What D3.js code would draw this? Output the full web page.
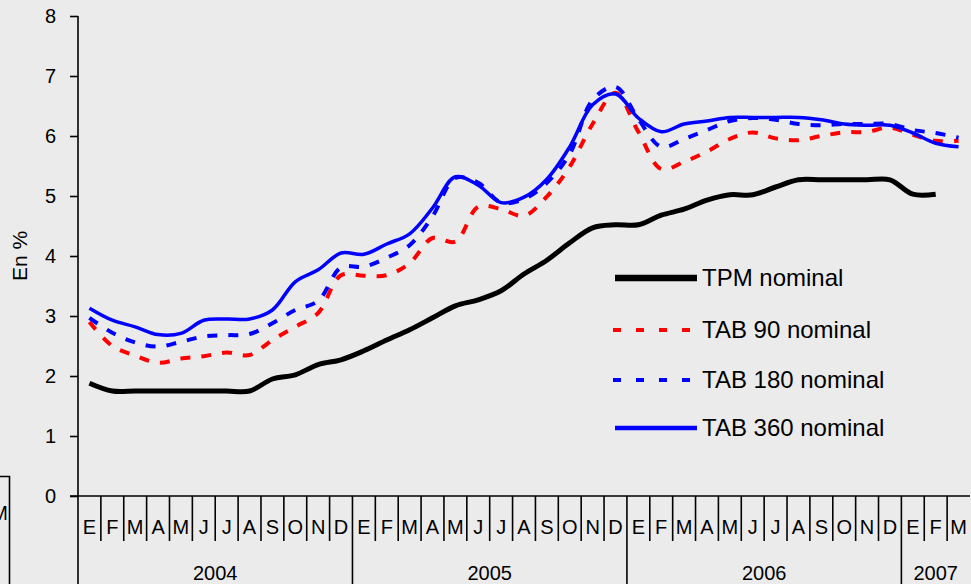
<!DOCTYPE html>
<html>
<head>
<meta charset="utf-8">
<script src="https://cdn.jsdelivr.net/npm/d3@7"></script>
<style>
  html, body { margin: 0; padding: 0; background: #ebebeb; }
  svg { display: block; }
  text { font-family: "Liberation Sans", Arial, sans-serif; fill: #000; }
</style>
</head>
<body>
<svg id="chart" width="971" height="584"></svg>
<script>
// Month initials (Spanish) and the years they belong to
const monthInitials = ["E","F","M","A","M","J","J","A","S","O","N","D"];
const years = ["2004", "2005", "2006", "2007"];
const monthsPerYear = [12, 12, 12, 3];
const yTicks = [0, 1, 2, 3, 4, 5, 6, 7, 8];

// Monthly rates, in percent (Jan 2004 – Mar 2007)
const tpm = [
  1.88, 1.75, 1.75, 1.75, 1.75, 1.75, 1.75, 1.75, 1.95, 2.02, 2.19, 2.27,
  2.42, 2.60, 2.77, 2.97, 3.17, 3.27, 3.42, 3.70, 3.93, 4.22, 4.47, 4.52,
  4.52, 4.68, 4.78, 4.93, 5.02, 5.02, 5.15, 5.27, 5.27, 5.27, 5.27, 5.27,
  5.03, 5.03, null
];
const tab90 = [
  2.90, 2.50, 2.34, 2.22, 2.29, 2.33, 2.39, 2.35, 2.60, 2.82, 3.05, 3.68,
  3.67, 3.68, 3.88, 4.30, 4.24, 4.82, 4.78, 4.67, 4.99, 5.49, 6.20, 6.72,
  6.07, 5.45, 5.57, 5.74, 5.95, 6.06, 5.96, 5.93, 6.00, 6.06, 6.07, 6.14,
  6.02, 5.92, 5.92
];
const tab180 = [
  2.97, 2.72, 2.56, 2.49, 2.57, 2.66, 2.68, 2.70, 2.88, 3.10, 3.25, 3.81,
  3.82, 3.97, 4.18, 4.66, 5.30, 5.22, 4.89, 4.95, 5.22, 5.70, 6.60, 6.82,
  6.28, 5.82, 5.95, 6.10, 6.25, 6.30, 6.27, 6.20, 6.18, 6.20, 6.20, 6.20,
  6.10, 6.05, 5.97
];
const tab360 = [
  3.13, 2.93, 2.82, 2.69, 2.71, 2.93, 2.95, 2.95, 3.10, 3.57, 3.77, 4.05,
  4.03, 4.20, 4.37, 4.80, 5.32, 5.18, 4.89, 4.98, 5.28, 5.82, 6.52, 6.70,
  6.30, 6.07, 6.20, 6.25, 6.31, 6.31, 6.31, 6.31, 6.27, 6.20, 6.18, 6.18,
  6.05, 5.88, 5.82
];

const seriesNames = ["TPM nominal", "TAB 90 nominal", "TAB 180 nominal", "TAB 360 nominal"];

// Build the month list from the arrays above
const months = [];
years.forEach((yr, yi) => {
  for (let m = 0; m < monthsPerYear[yi]; m++) {
    months.push({ idx: months.length, label: monthInitials[m], year: yr });
  }
});

const series = [
  { name: seriesNames[0], values: tpm,    color: "#000000", width: 5,   dash: null,    lw: 6.5, ldash: null },
  { name: seriesNames[1], values: tab90,  color: "#ff0000", width: 4,   dash: "10,11", lw: 4,   ldash: "8,15" },
  { name: seriesNames[2], values: tab180, color: "#0000ff", width: 4,   dash: "10,11", lw: 4,   ldash: "8,15" },
  { name: seriesNames[3], values: tab360, color: "#0000ff", width: 3.5, dash: null,    lw: 4.3, ldash: null }
];

const svg = d3.select("#chart");
const plotLeft = 78, plotRight = 970, plotTop = 16, plotBottom = 496;

const x = d3.scaleBand()
  .domain(months.map(d => d.idx))
  .range([plotLeft, plotRight])
  .paddingInner(0).paddingOuter(0);
const y = d3.scaleLinear().domain([0, 8]).range([plotBottom, plotTop]);
const xc = i => x(i) + x.bandwidth() / 2;

// Edge of the neighbouring panel at the far left
svg.append("path")
  .attr("d", "M0,476.5H9.5V584")
  .attr("fill", "none").attr("stroke", "#000").attr("stroke-width", 1.6);
svg.append("text").attr("x", 8).attr("y", 520).attr("text-anchor", "end")
  .attr("font-size", 20).text("M");

// Y axis
const yAxis = d3.axisLeft(y).tickValues(yTicks).tickSize(8).tickPadding(14)
  .tickFormat(d3.format("d"));
const gy = svg.append("g").attr("transform", `translate(${plotLeft},0)`).call(yAxis);
gy.select(".domain").attr("stroke", "#000").attr("stroke-width", 1.6)
  .attr("d", `M0,${plotTop}V${plotBottom}`);
gy.selectAll(".tick line").attr("stroke", "#000").attr("stroke-width", 1.6);
gy.selectAll(".tick text").attr("font-size", 20)
  .attr("font-family", "'Liberation Sans', Arial, sans-serif").attr("fill", "#000");

// Axis title
svg.append("text")
  .attr("transform", `translate(27,256) rotate(-90)`)
  .attr("text-anchor", "middle").attr("font-size", 21).text("En %");

// X axis baseline
svg.append("line")
  .attr("x1", plotLeft - 8).attr("x2", plotRight)
  .attr("y1", plotBottom).attr("y2", plotBottom)
  .attr("stroke", "#000").attr("stroke-width", 1.6);

// Month separators (short) and year separators (long)
const g = svg.append("g");
months.forEach(m => {
  const isYearStart = m.idx % 12 === 0;
  g.append("line")
    .attr("x1", x(m.idx)).attr("x2", x(m.idx))
    .attr("y1", plotBottom).attr("y2", isYearStart ? 584 : 541)
    .attr("stroke", "#000").attr("stroke-width", 1.6);
});

// Month labels
svg.append("g").selectAll("text").data(months).join("text")
  .attr("x", d => xc(d.idx)).attr("y", 534)
  .attr("text-anchor", "middle").attr("font-size", 20)
  .text(d => d.label);

// Year labels centred under their months
let start = 0;
years.forEach((yr, yi) => {
  const first = start, last = start + monthsPerYear[yi] - 1;
  const cx = (x(first) + x(last) + x.bandwidth()) / 2;
  svg.append("text").attr("x", cx).attr("y", 580)
    .attr("text-anchor", "middle").attr("font-size", 20).text(yr);
  start += monthsPerYear[yi];
});

// Series lines, smoothed through the monthly points
const line = d3.line()
  .defined(d => d.v !== null)
  .x(d => xc(d.i))
  .y(d => y(d.v))
  .curve(d3.curveCatmullRom.alpha(0.5));

series.forEach(s => {
  svg.append("path")
    .datum(s.values.map((v, i) => ({ i, v })))
    .attr("d", line)
    .attr("fill", "none")
    .attr("stroke", s.color)
    .attr("stroke-width", s.width)
    .attr("stroke-dasharray", s.dash)
    .attr("stroke-linejoin", "round");
});

// Legend
const legendRows = [278, 330, 380, 428];
const legend = svg.append("g");
series.forEach((s, k) => {
  const ly = legendRows[k];
  legend.append("line")
    .attr("x1", s.ldash ? 613 : 615).attr("x2", 697)
    .attr("y1", ly).attr("y2", ly)
    .attr("stroke", s.color).attr("stroke-width", s.lw)
    .attr("stroke-dasharray", s.ldash);
  legend.append("text")
    .attr("x", 702).attr("y", ly).attr("dy", "0.35em")
    .attr("font-size", 24).text(s.name);
});
</script>
</body>
</html>
